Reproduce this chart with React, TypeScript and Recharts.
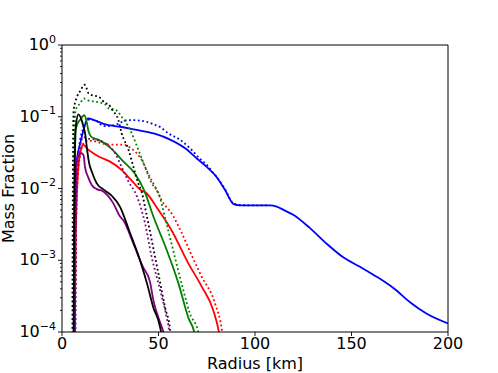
import React from 'react';
import { LineChart, Line, XAxis, YAxis, ReferenceLine } from 'recharts';

const FONT = '"DejaVu Sans", Verdana, sans-serif';

const xTicks = [0, 50, 100, 150, 200];
const yMajorTicks = [1e-4, 1e-3, 1e-2, 1e-1, 1];
const yMinorMultipliers = [2, 3, 4, 5, 6, 7, 8, 9];

type P = [number, number];

// [radius km, mass fraction]
const blueSolid: P[] = [
  [6.3, 1e-5], [6.7, 0.0078], [7.7, 0.025], [9.5, 0.043], [11.2, 0.066], [13.5, 0.095],
  [17, 0.089], [22, 0.079], [27.5, 0.074], [31, 0.072], [38, 0.066], [48, 0.058],
  [56, 0.048], [64, 0.036], [70, 0.026], [75, 0.02], [80, 0.0146], [84.5, 0.0095],
  [88.8, 0.0061], [92, 0.0058], [100, 0.0058], [107.8, 0.0058], [111.2, 0.0056],
  [115, 0.005], [119.8, 0.0043], [128.5, 0.0028], [137.1, 0.0017], [145.7, 0.0011],
  [154.4, 0.00081], [163, 0.00059], [171.7, 0.00041], [180.3, 0.00026], [189, 0.00018],
  [200, 0.000132],
];
const blueDotted: P[] = [
  [6.8, 1e-5], [7.5, 0.01], [9, 0.04], [11, 0.069], [13.8, 0.091], [17.1, 0.09],
  [20, 0.078], [22.3, 0.074], [27.5, 0.077], [34.4, 0.09], [41.3, 0.088], [48.2, 0.077],
  [50.8, 0.072], [55, 0.059], [61, 0.048], [66, 0.037], [71.5, 0.026], [75, 0.0214],
  [78, 0.017], [80, 0.0146], [84.5, 0.0098], [88.8, 0.0062], [92, 0.0059], [100, 0.0058],
  [107.8, 0.0058],
];
const redSolid: P[] = [
  [6.5, 1e-5], [6.9, 0.001], [7.3, 0.0036], [8.5, 0.02], [10.2, 0.038], [11, 0.041],
  [13, 0.036], [16.2, 0.031], [20, 0.027], [24.9, 0.0237], [31, 0.018], [36, 0.013],
  [41.3, 0.0093], [43, 0.0089], [50, 0.005], [56.8, 0.0026], [65.4, 0.00091],
  [72.4, 0.00043], [78.4, 0.0002], [81.3, 0.0001], [83, 0.00005],
];
const redDotted: P[] = [
  [6.6, 1e-5], [7.2, 0.002], [8, 0.012], [9.5, 0.03], [11, 0.042], [13, 0.046], [16, 0.046],
  [20, 0.043], [25.7, 0.041], [31, 0.041], [36, 0.036], [41.3, 0.025], [44.7, 0.016],
  [48.2, 0.0106], [51.6, 0.0069], [57.7, 0.0041], [62, 0.0024], [67, 0.0012],
  [72.4, 0.00059], [79.3, 0.00025], [83, 0.0001], [84, 0.00006],
];
const greenSolid: P[] = [
  [6.0, 1e-5], [6.4, 0.01], [6.8, 0.06], [8, 0.08], [9.3, 0.09], [11.5, 0.105], [13, 0.08],
  [13.6, 0.065], [15.4, 0.052], [18.8, 0.048], [24, 0.039], [27.5, 0.032], [31, 0.025],
  [37.8, 0.016], [42.5, 0.0095], [47.3, 0.0041], [54.2, 0.0014], [60.3, 0.00048],
  [65.4, 0.00016], [68.9, 0.00009], [69.5, 0.00005],
];
const greenDotted: P[] = [
  [5.8, 1e-5], [6.3, 0.03], [6.9, 0.12], [9.5, 0.155], [11.2, 0.18], [13.8, 0.168],
  [17.3, 0.162], [22.4, 0.148], [24, 0.132], [27.6, 0.126], [30.9, 0.1], [36.1, 0.059],
  [39.5, 0.035], [43, 0.02], [46.5, 0.0118], [49.9, 0.0087], [54.2, 0.0032], [58.5, 0.0011],
  [62.8, 0.00039], [66.3, 0.00018], [70.6, 0.0001], [71.5, 0.00006],
];
const purpleSolid: P[] = [
  [6.5, 1e-5], [6.9, 0.001], [7.6, 0.022], [8.5, 0.029], [10.2, 0.031], [11.2, 0.029],
  [11.9, 0.02], [13.5, 0.0145], [15.4, 0.0112], [18, 0.0098], [21.4, 0.0091], [26.6, 0.0062],
  [30, 0.0041], [31.8, 0.0036], [37, 0.0017], [42, 0.0008], [45.6, 0.0005], [47.3, 0.00028],
  [51.7, 0.000117], [52.5, 0.0001], [53, 0.00005],
];
const purpleDotted: P[] = [
  [6.5, 1e-5], [7, 0.002], [8, 0.02], [9.5, 0.04], [11, 0.052], [13, 0.05], [17.1, 0.048],
  [22.3, 0.043], [27.5, 0.031], [30.9, 0.02], [34.4, 0.0126], [38.7, 0.0079], [43, 0.0033],
  [46.5, 0.0011], [50.8, 0.00039], [54.2, 0.00016], [55.5, 0.0001], [56, 0.00005],
];
const blackSolid: P[] = [
  [5.8, 1e-5], [6.0, 1e-4], [6.3, 0.003], [6.7, 0.03], [7.3, 0.08], [8.5, 0.108],
  [10.2, 0.089], [11, 0.075], [12, 0.058], [13, 0.035], [14, 0.023], [15.5, 0.017],
  [18, 0.0118], [22, 0.0095], [26, 0.0078], [30, 0.0056], [35, 0.0025], [40.4, 0.001],
  [44, 0.00048], [47.3, 0.00022], [50.8, 0.000117], [51.5, 0.00009], [52, 0.00005],
];
const blackDotted: P[] = [
  [5.3, 1e-5], [5.6, 0.01], [6, 0.12], [7.8, 0.19], [9.5, 0.23], [11.6, 0.28], [13, 0.24],
  [13.8, 0.21], [15.5, 0.2], [19, 0.19], [22.4, 0.155], [24, 0.15], [26, 0.125],
  [29.2, 0.09], [30.9, 0.059], [34.4, 0.035], [37, 0.02], [39.5, 0.0118], [41.3, 0.0089],
  [43.9, 0.0042], [46.5, 0.0019], [49.9, 0.00066], [53.4, 0.00022], [56, 0.000107],
  [56.5, 0.00006],
];

const series = [
  { name: 'blueSolid', data: blueSolid, color: '#0000ff', dotted: false },
  { name: 'blueDotted', data: blueDotted, color: '#0000ff', dotted: true },
  { name: 'redSolid', data: redSolid, color: '#ff0000', dotted: false },
  { name: 'redDotted', data: redDotted, color: '#ff0000', dotted: true },
  { name: 'greenSolid', data: greenSolid, color: '#008000', dotted: false },
  { name: 'greenDotted', data: greenDotted, color: '#008000', dotted: true },
  { name: 'purpleSolid', data: purpleSolid, color: '#800080', dotted: false },
  { name: 'purpleDotted', data: purpleDotted, color: '#800080', dotted: true },
  { name: 'blackSolid', data: blackSolid, color: '#000000', dotted: false },
  { name: 'blackDotted', data: blackDotted, color: '#000000', dotted: true },
];

const yTicks: number[] = [];
yMajorTicks.forEach((m, i) => {
  yTicks.push(m);
  if (i < yMajorTicks.length - 1) yMinorMultipliers.forEach((k) => yTicks.push(k * m));
});

const YTick = (props: any) => {
  const { x, y, payload } = props;
  const v = payload.value;
  const lg = Math.log10(v);
  const exp = Math.round(lg);
  const major = Math.abs(lg - exp) < 1e-6;
  const len = major ? 4 : 2;
  return (
    <g>
      <line x1={x} x2={x - len} y1={y} y2={y} stroke="#000" strokeWidth={0.9} />
      {major && (
        <text x={x - 6} y={y + 5} textAnchor="end" fontFamily={FONT} fontSize={16} fill="#000">
          10
          <tspan dy={-7.5} fontSize={11}>{exp < 0 ? `\u2212${-exp}` : `${exp}`}</tspan>
        </text>
      )}
    </g>
  );
};

const YLabel = (props: any) => {
  const vb = props.viewBox || { x: 0, y: 45, width: 62, height: 287 };
  const cx = vb.x + 14;
  const cy = vb.y + vb.height / 2;
  return (
    <text x={cx} y={cy} transform={`rotate(-90 ${cx} ${cy})`} textAnchor="middle"
      fontFamily={FONT} fontSize={16} fill="#000">
      Mass Fraction
    </text>
  );
};

const XLabel = (props: any) => {
  const vb = props.viewBox || { x: 62, y: 332, width: 386, height: 41 };
  const cx = vb.x + vb.width / 2;
  const cy = vb.y + vb.height - 4.5;
  return (
    <text x={cx} y={cy} textAnchor="middle" fontFamily={FONT} fontSize={16} fill="#000">
      Radius [km]
    </text>
  );
};

export default function App() {
  return (
    <div>
      <style>{'body{margin:0}'}</style>
      <LineChart width={498} height={373} margin={{ top: 45, right: 50, left: 0, bottom: 0 }}>
        <XAxis
          xAxisId={0}
          type="number"
          dataKey="x"
          domain={[0, 200]}
          ticks={xTicks}
          allowDataOverflow
          height={41}
          tickSize={4}
          tickMargin={2}
          axisLine={{ stroke: '#000', strokeWidth: 1 }}
          tickLine={{ stroke: '#000', strokeWidth: 0.9 }}
          tick={{ fill: '#000', fontSize: 16, fontFamily: FONT }}
          label={<XLabel />}
        />
        <YAxis
          yAxisId={0}
          type="number"
          scale="log"
          domain={[1e-4, 1]}
          allowDataOverflow
          ticks={yTicks}
          interval={0}
          width={62}
          tickSize={0}
          tickMargin={0}
          tickLine={false}
          axisLine={{ stroke: '#000', strokeWidth: 1 }}
          tick={<YTick />}
          label={<YLabel />}
        />
        {series.map((s) => (
          <Line
            key={s.name}
            xAxisId={0}
            yAxisId={0}
            data={s.data.map(([x, y]) => ({ x, y }))}
            dataKey="y"
            type="monotone"
            stroke={s.color}
            strokeWidth={1.8}
            strokeDasharray={s.dotted ? '1.8 2.6' : undefined}
            dot={false}
            activeDot={false}
            isAnimationActive={false}
          />
        ))}
        <ReferenceLine xAxisId={0} yAxisId={0} y={1} stroke="#000" strokeWidth={1} ifOverflow="visible" />
        <ReferenceLine xAxisId={0} yAxisId={0} x={200} stroke="#000" strokeWidth={1} ifOverflow="visible" />
      </LineChart>
    </div>
  );
}
